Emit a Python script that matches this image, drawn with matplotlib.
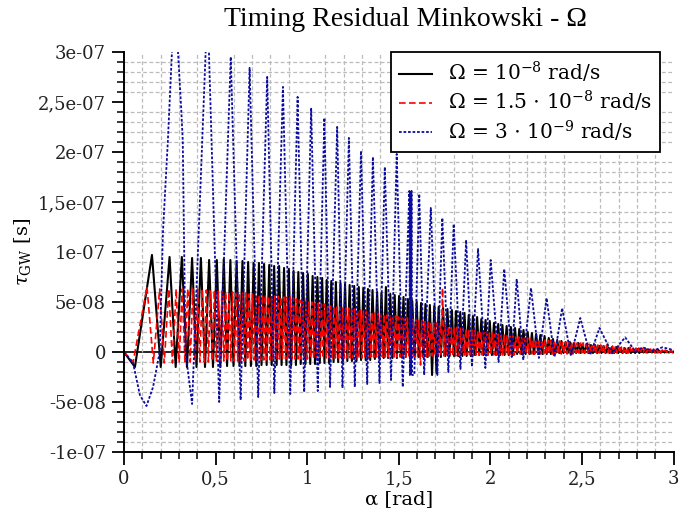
import numpy as np
import matplotlib
matplotlib.use('Agg')
import matplotlib.pyplot as plt
from matplotlib.ticker import FixedLocator, MultipleLocator

# values in units of 1e-8 s, alpha in rad

# black, Omega = 1e-8 : start points, peaks, peak heights, trough after each peak
black_start_a = [0.0, 0.06]
black_start_v = [0.0, -1.5]
black_peak_a = [
    0.153, 0.249, 0.316, 0.372, 0.420, 0.465, 0.507, 0.545, 0.581, 0.615,
    0.647, 0.678, 0.708, 0.737, 0.765, 0.793, 0.820, 0.847, 0.874, 0.900,
    0.926, 0.952, 0.978, 1.004, 1.030, 1.056, 1.082, 1.107, 1.132, 1.157,
    1.182, 1.207, 1.232, 1.257, 1.282, 1.307, 1.332, 1.357, 1.382, 1.406,
    1.430, 1.454, 1.478, 1.502, 1.526, 1.550, 1.574, 1.598, 1.622, 1.646,
    1.670, 1.694, 1.718, 1.742, 1.766, 1.790, 1.813, 1.836, 1.859, 1.882,
    1.905, 1.928, 1.951, 1.974, 1.997, 2.020, 2.043, 2.066, 2.089, 2.112,
    2.135, 2.158, 2.181, 2.204, 2.227, 2.250, 2.273, 2.296, 2.319, 2.342,
    2.365, 2.388, 2.411, 2.434, 2.457, 2.480, 2.503, 2.526, 2.549, 2.572,
    2.595, 2.618, 2.641, 2.664, 2.687, 2.710, 2.733, 2.756, 2.779, 2.802,
    2.825, 2.848, 2.871, 2.894, 2.917, 2.940, 2.963, 2.986]
black_peak_v = [
    9.7, 9.5, 9.5, 9.4, 9.4, 9.2, 9.2, 9.3, 9.2, 9.1,
    9.1, 9.0, 8.9, 8.9, 8.8, 8.7, 8.6, 8.6, 8.4, 8.3,
    8.1, 8.0, 7.9, 7.8, 7.6, 7.5, 7.4, 7.2, 7.1, 7.0,
    6.9, 6.8, 6.7, 6.6, 6.5, 6.4, 6.3, 6.2, 6.0, 5.9,
    6.5, 5.8, 5.7, 5.6, 5.5, 5.3, 5.1, 5.0, 4.9, 4.8,
    4.7, 4.6, 4.5, 4.4, 4.3, 4.2, 4.1, 4.0, 3.9, 3.7,
    3.6, 3.5, 3.3, 3.2, 3.1, 2.9, 2.8, 2.7, 2.6, 2.5,
    2.4, 2.3, 2.2, 2.0, 1.9, 1.8, 1.7, 1.6, 1.4, 1.3,
    1.2, 1.1, 1.0, 1.0, 0.9, 0.9, 0.8, 0.8, 0.7, 0.7,
    0.6, 0.6, 0.5, 0.5, 0.5, 0.4, 0.4, 0.4, 0.3, 0.3,
    0.3, 0.3, 0.2, 0.2, 0.2, 0.1, 0.1, 0.1]
black_trough_v = [
    -1.5, -1.5, -1.5, -1.5, -1.5, -1.5, -1.5, -1.4, -1.4, -1.4,
    -1.4, -1.4, -1.4, -1.3, -1.3, -1.3, -1.3, -1.3, -1.3, -1.3,
    -1.3, -1.2, -1.2, -1.2, -1.2, -1.1, -1.1, -1.1, -1.0, -1.0,
    -1.0, -0.9, -0.9, -0.9, -0.8, -0.8, -0.8, -0.7, -0.7, -0.6,
    -0.6, -0.6, -0.6, -0.5, -0.5, -0.5, -0.5, -0.5, -0.5, -0.5,
    -2.3, -2.1, -0.5, -0.4, -0.4, -0.4, -0.4, -0.4, -0.4, -0.4,
    -0.3, -0.3, -0.3, -0.3, -0.3, -0.3, -0.3, -0.3, -0.3, -0.3,
    -0.2, -0.2, -0.2, -0.2, -0.2, -0.2, -0.2, -0.2, -0.2, -0.2,
    -0.1, -0.1, -0.1, -0.1, -0.1, -0.1, -0.1, -0.1, -0.1, -0.1,
    -0.1, -0.1, -0.1, -0.1, -0.1, -0.1, -0.1, -0.1, -0.1, -0.1,
    -0.05, -0.05, -0.05, -0.05, -0.05, -0.05, -0.05, -0.05]

# red, Omega = 1.5e-8
red_start_a = [0.0, 0.05]
red_start_v = [0.0, -1.0]
red_peak_a = [
    0.126, 0.195, 0.245, 0.285, 0.318, 0.348, 0.376, 0.402, 0.427, 0.450,
    0.472, 0.494, 0.515, 0.535, 0.555, 0.574, 0.593, 0.612, 0.630, 0.648,
    0.666, 0.684, 0.702, 0.720, 0.738, 0.755, 0.772, 0.789, 0.806, 0.823,
    0.840, 0.857, 0.874, 0.891, 0.908, 0.925, 0.942, 0.959, 0.976, 0.993,
    1.010, 1.027, 1.044, 1.061, 1.078, 1.095, 1.112, 1.129, 1.146, 1.163,
    1.179, 1.195, 1.211, 1.227, 1.243, 1.259, 1.275, 1.291, 1.307, 1.323,
    1.339, 1.355, 1.371, 1.387, 1.403, 1.419, 1.435, 1.451, 1.467, 1.483,
    1.499, 1.515, 1.531, 1.547, 1.563, 1.579, 1.595, 1.611, 1.627, 1.643,
    1.659, 1.675, 1.691, 1.707, 1.723, 1.739, 1.755, 1.771, 1.787, 1.803,
    1.819, 1.835, 1.851, 1.867, 1.883, 1.899, 1.915, 1.931, 1.947, 1.963,
    1.979, 1.995, 2.011, 2.027, 2.043, 2.059, 2.075, 2.091, 2.107, 2.123,
    2.139, 2.155, 2.171, 2.187, 2.203, 2.219, 2.235, 2.251, 2.267, 2.283,
    2.299, 2.315, 2.331, 2.347, 2.363, 2.379, 2.395, 2.411, 2.427, 2.443,
    2.459, 2.475, 2.491, 2.507, 2.523, 2.539, 2.555, 2.571, 2.587, 2.603,
    2.619, 2.635, 2.651, 2.667, 2.683, 2.699, 2.715, 2.731, 2.747, 2.763,
    2.779, 2.795, 2.811, 2.827, 2.843, 2.859, 2.875, 2.891, 2.907, 2.923,
    2.939, 2.955, 2.971, 2.987]
red_peak_v = [
    6.5, 6.3, 6.3, 6.3, 6.3, 6.3, 6.3, 6.3, 6.3, 6.2,
    6.2, 6.2, 6.1, 6.1, 6.0, 6.0, 6.0, 5.9, 5.9, 5.9,
    5.9, 5.8, 5.8, 5.8, 5.7, 5.7, 5.7, 5.6, 5.6, 5.6,
    5.6, 5.5, 5.5, 5.5, 5.5, 5.4, 5.3, 5.2, 5.1, 5.1,
    5.0, 5.0, 4.9, 4.9, 4.8, 4.8, 4.7, 4.6, 4.6, 4.5,
    4.5, 4.4, 4.4, 4.4, 4.3, 4.3, 4.2, 4.2, 4.1, 4.1,
    4.0, 4.0, 3.9, 3.9, 3.8, 3.8, 3.7, 3.7, 3.6, 3.6,
    3.5, 3.5, 3.4, 3.4, 3.4, 3.3, 3.3, 3.2, 3.2, 3.1,
    3.0, 3.0, 2.9, 2.9, 2.8, 6.4, 2.7, 2.6, 2.6, 2.5,
    2.5, 2.4, 2.4, 2.3, 2.3, 2.2, 2.2, 2.1, 2.1, 2.0,
    2.0, 1.9, 1.9, 1.8, 1.8, 1.7, 1.7, 1.7, 1.6, 1.6,
    1.5, 1.5, 1.5, 1.4, 1.4, 1.4, 1.3, 1.3, 1.3, 1.2,
    1.2, 1.2, 1.2, 1.1, 1.1, 1.1, 1.0, 1.0, 1.0, 1.0,
    0.9, 0.9, 0.9, 0.9, 0.8, 0.8, 0.8, 0.8, 0.7, 0.7,
    0.7, 0.7, 0.6, 0.6, 0.6, 0.6, 0.5, 0.5, 0.5, 0.5,
    0.4, 0.4, 0.4, 0.4, 0.4, 0.3, 0.3, 0.3, 0.3, 0.3,
    0.2, 0.2, 0.2, 0.2]
red_trough_v = (
    [-1.1, -1.1, -1.1, -1.0, -1.0, -1.0, -1.0, -1.0, -1.0, -1.0]
    + [-0.9] * 10 + [-0.8] * 10 + [-0.7] * 10 + [-0.6] * 10 + [-0.6] * 10
    + [-0.5] * 10
    + [-0.5, -0.5, -0.5, -0.5, -0.5, -0.5, -0.5, -1.3, -0.5, -0.5]
    + [-0.4] * 10 + [-0.3] * 10 + [-0.3] * 10 + [-0.2] * 10 + [-0.2] * 10
    + [-0.1] * 10 + [-0.1] * 10 + [-0.1] * 10 + [-0.05] * 4)

blue_a = [
    0.0, 0.05, 0.087, 0.123, 0.159, 0.195, 0.213, 0.24, 0.262, 0.278, 0.295, 0.312,
    0.321, 0.336, 0.372,
    0.446, 0.455, 0.464, 0.52, 0.583, 0.637, 0.686, 0.733, 0.782, 0.821, 0.868, 0.908,
    0.948, 0.984, 1.022, 1.058, 1.094, 1.125, 1.164, 1.193, 1.228, 1.26, 1.294, 1.328,
    1.359, 1.395, 1.424, 1.458, 1.489, 1.522,
    1.558, 1.561, 1.564, 1.567, 1.570, 1.573, 1.585,
    1.612, 1.639, 1.675, 1.711, 1.738, 1.771, 1.80, 1.837, 1.868, 1.90, 1.933, 1.973,
    2.002, 2.045, 2.076, 2.117, 2.144, 2.18, 2.222, 2.265, 2.307, 2.35, 2.392, 2.44,
    2.491, 2.545, 2.596, 2.665, 2.736, 2.794, 2.83, 2.885, 2.94, 3.0]
blue_v = [
    0.0, -1.1, -4.3, -5.4, -3.5, 0.0, 12.0, 21.2, 30.0, 32.0, 30.0, 24.5,
    21.2, 0.0, -5.2,
    30.0, 31.0, 30.0, -5.0, 29.5, -4.8, 28.4, -4.5, 27.5, -4.1, 26.5, -4.2,
    25.5, -4.0, 24.4, -3.9, 23.4, -3.5, 22.5, -3.6, 21.4, -3.5, 20.1, -3.2,
    19.5, -3.1, 18.5, -2.8, 19.8, -3.5,
    16.1, -2.3, 16.1, -2.3, 16.1, -2.3, -2.3,
    15.8, -2.3, 14.4, -2.3, 13.4, -2.0, 12.8, -1.7, 11.2, -1.5, 10.3, -1.6,
    9.2, -1.0, 8.3, -0.5, 7.3, -0.8, 6.4, -0.6, 5.4, -0.5, 4.4, -0.4,
    3.4, -0.3, 2.4, -0.13, 1.47, 0.0, 0.47, 0.13, 0.47, 0.2]

labels = [r'$\Omega$ = 10$^{\mathregular{-8}}$ rad/s',
          r'$\Omega$ = 1.5 $\cdot$ 10$^{\mathregular{-8}}$ rad/s',
          r'$\Omega$ = 3 $\cdot$ 10$^{\mathregular{-9}}$ rad/s']
x_ticks = [0, 0.5, 1, 1.5, 2, 2.5, 3]
x_tick_labels = ['0', '0,5', '1', '1,5', '2', '2,5', '3']
y_ticks = [-1e-7, -5e-8, 0, 5e-8, 1e-7, 1.5e-7, 2e-7, 2.5e-7, 3e-7]
y_tick_labels = ['-1e-07', '-5e-08', '0', '5e-08', '1e-07', '1,5e-07',
                 '2e-07', '2,5e-07', '3e-07']


def build(start_a, start_v, peak_a, peak_v, trough_v):
    # troughs sit halfway between neighbouring peaks
    pa = np.array(peak_a)
    trough_a = np.append((pa[:-1] + pa[1:]) / 2, pa[-1] + (pa[-1] - pa[-2]) / 2)
    a = list(start_a)
    v = list(start_v)
    for p, pv, t, tv in zip(pa, peak_v, trough_a, trough_v):
        a += [p, t]
        v += [pv, tv]
    a.append(3.0)
    v.append(0.0)
    return np.array(a), np.array(v) * 1e-8


plt.rcParams['font.family'] = 'DejaVu Serif'
plt.rcParams['mathtext.fontset'] = 'dejavuserif'

fig = plt.figure(figsize=(6.81, 5.19), dpi=100)
ax = fig.add_axes([0.182, 0.129, 0.807, 0.771])

ax.grid(True, which='minor', color='#bbbbbb', linestyle=(0, (3, 2)), linewidth=0.9)
ax.axhline(0, color='black', linewidth=1.2, zorder=1)

ba, bv = build(black_start_a, black_start_v, black_peak_a, black_peak_v, black_trough_v)
ra, rv = build(red_start_a, red_start_v, red_peak_a, red_peak_v, red_trough_v)
ax.plot(ba, bv, color='black', linewidth=1.5, label=labels[0])
ax.plot(ra, rv, color='#ff0000', linewidth=1.2, linestyle=(0, (4, 2)), label=labels[1])
ax.plot(blue_a, np.array(blue_v) * 1e-8, color='#0c0ca0', linewidth=1.3,
        linestyle=(0, (1.5, 1.0)), label=labels[2])

ax.set_xlim(0, 3)
ax.set_ylim(-1e-7, 3e-7)
ax.xaxis.set_major_locator(FixedLocator(x_ticks))
ax.set_xticklabels(x_tick_labels)
ax.yaxis.set_major_locator(FixedLocator(y_ticks))
ax.set_yticklabels(y_tick_labels)
ax.xaxis.set_minor_locator(MultipleLocator(0.1))
ax.yaxis.set_minor_locator(MultipleLocator(1e-8))
ax.tick_params(which='major', direction='out', length=9, width=1.3,
               labelsize=13, pad=4, colors='black', labelcolor='#222222')
ax.tick_params(which='minor', direction='out', length=5, width=1.1)
for s in ['top', 'right']:
    ax.spines[s].set_visible(False)
for s in ['left', 'bottom']:
    ax.spines[s].set_linewidth(1.4)

ax.set_xlabel('α [rad]', fontsize=14)
ax.xaxis.set_label_coords(0.5, -0.095)
ax.set_ylabel(r'$\tau_{\mathregular{GW}}$ [s]', fontsize=14)
ax.yaxis.set_label_coords(-0.165, 0.5)

fig.text(0.595, 0.962, 'Timing Residual Minkowski - Ω', ha='center', va='center',
         fontsize=20, family=['Liberation Serif', 'DejaVu Serif'])

leg = ax.legend(loc='upper right', bbox_to_anchor=(0.975, 1.0), borderaxespad=0,
                fontsize=14.5, handlelength=1.6, handletextpad=0.8, borderpad=0.4,
                labelspacing=0.2, fancybox=False, framealpha=1)
leg.get_frame().set_edgecolor('black')
leg.get_frame().set_linewidth(1.3)

fig.savefig('out.png', dpi=100)
